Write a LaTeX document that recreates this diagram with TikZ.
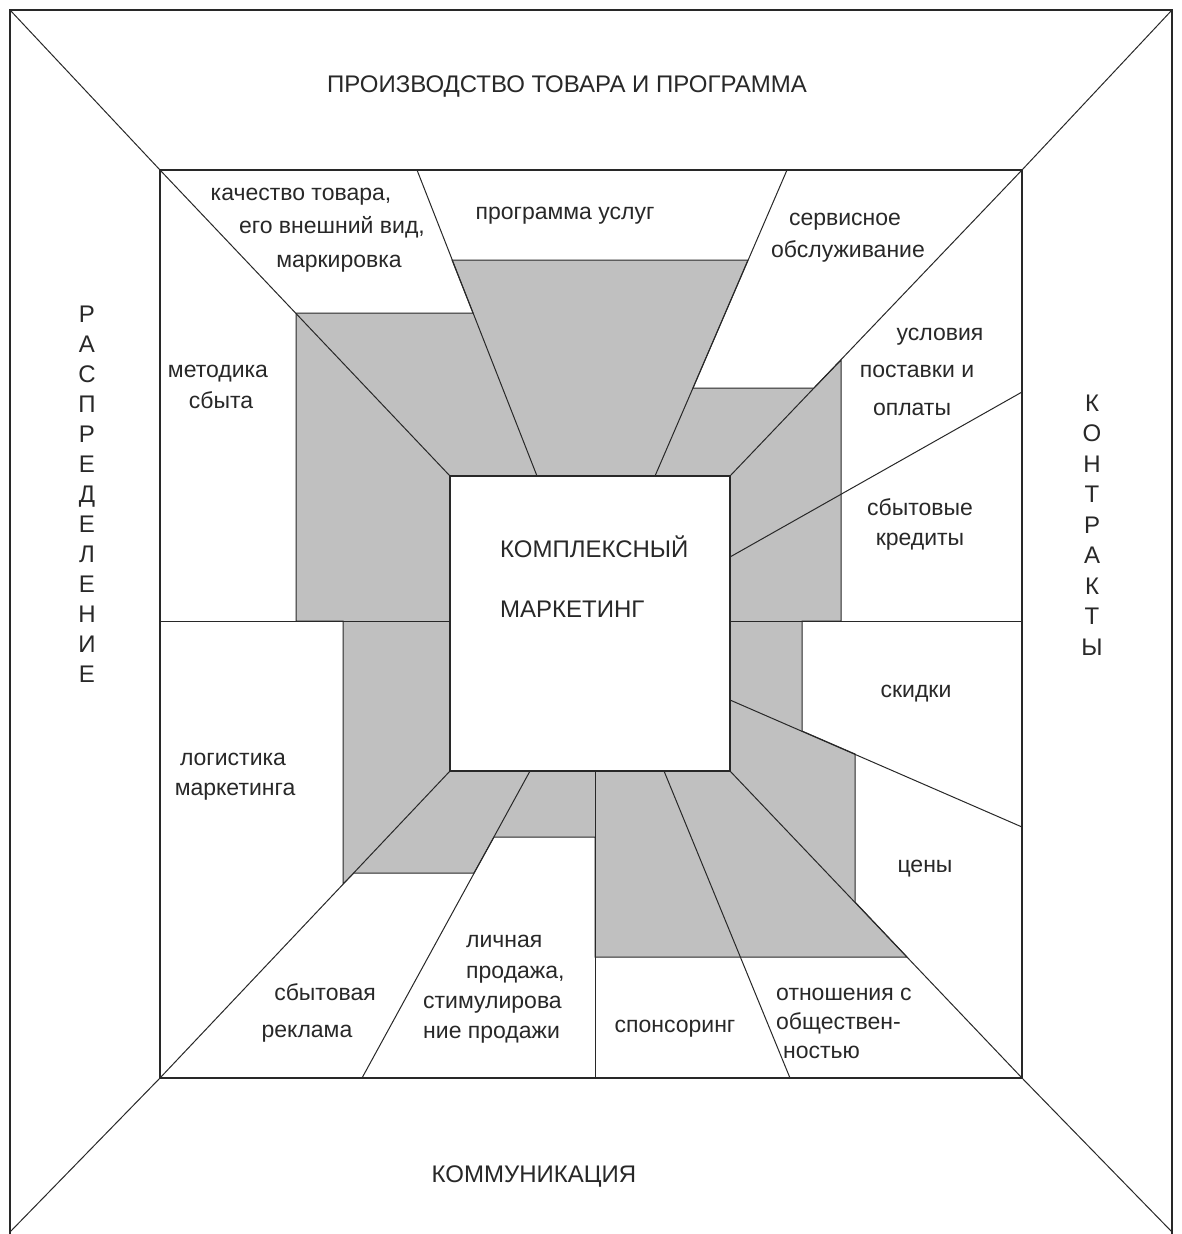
\documentclass[tikz,border=0pt]{standalone}
\usepackage{fontspec}
\setmainfont{Liberation Sans}
\definecolor{panel}{RGB}{192,192,192}
\definecolor{ink}{RGB}{40,40,40}
\begin{document}
\begin{tikzpicture}[x=1pt,y=-1pt,
  frame/.style={line width=1.7pt, draw=ink},
  rule/.style={line width=1pt, draw=ink},
  lbl/.style={inner sep=0pt, font=\fontsize{23}{27}\selectfont, text=ink},
  bigtxt/.style={inner sep=0pt, font=\fontsize{24}{28}\selectfont, text=ink}]
\useasboundingbox (0,0) rectangle (1181,1234);
\fill[white] (0,0) rectangle (1181,1234);

% outer frame corners
\coordinate (o1) at (10,10);
\coordinate (o2) at (1172,10);
\coordinate (o3) at (1172,1234);
\coordinate (o4) at (10,1234);
\coordinate (o3d) at (1172,1232);
\coordinate (o4d) at (10,1232);
% inner square
\coordinate (i1) at (160,170);
\coordinate (i2) at (1022,170);
\coordinate (i3) at (1022,1078);
\coordinate (i4) at (160,1078);
% centre box
\coordinate (c1) at (450,476);
\coordinate (c2) at (730,476);
\coordinate (c3) at (730,771);
\coordinate (c4) at (450,771);

% grey ring around the centre box
\filldraw[fill=panel, rule]
  (296,313) -- (473,313) -- (452,260) -- (748,260) -- (693,388) -- (814,388)
  -- (841,360) -- (841,621) -- (802,621) -- (802,731) -- (855,754) -- (855,902)
  -- (907,957) -- (595,957) -- (595,837) -- (494,837) -- (474,873) -- (354,873)
  -- (343,884) -- (343,621) -- (296,621) -- cycle;

% centre box
\filldraw[fill=white, frame] (c1) rectangle (c3);

% dividing lines of the cells
\draw[rule] (i1) -- (c1);
\draw[rule] (i2) -- (c2);
\draw[rule] (i3) -- (c3);
\draw[rule] (i4) -- (c4);
\draw[rule] (417,170) -- (537,476);
\draw[rule] (787,170) -- (655,476);
\draw[rule] (1022,392) -- (730,557);
\draw[rule] (1022,827) -- (730,700);
\draw[rule] (790,1078) -- (664,771);
\draw[rule] (595,771) -- (595,1078);
\draw[rule] (362,1078) -- (530,771);
\draw[rule] (160,621) -- (450,621);
\draw[rule] (730,621) -- (1022,621);

% frames and corner diagonals
\draw[frame] (o4) -- (o1) -- (o2) -- (o3);
\draw[frame] (i1) rectangle (i3);
\draw[rule] (o1) -- (i1);
\draw[rule] (o2) -- (i2);
\draw[rule] (o3d) -- (i3);
\draw[rule] (o4d) -- (i4);

% outer band titles
\node[bigtxt, anchor=base] (top) at (567,92) {ПРОИЗВОДСТВО ТОВАРА И ПРОГРАММА};
\node[bigtxt, anchor=base] (bottom) at (534,1182) {КОММУНИКАЦИЯ};
\foreach \ch [count=\i from 0] in {Р,А,С,П,Р,Е,Д,Е,Л,Е,Н,И,Е}
  \node[bigtxt, anchor=base] (left\i) at (87,322+30*\i) {\ch};
\foreach \ch [count=\i from 0] in {К,О,Н,Т,Р,А,К,Т,Ы}
  \node[bigtxt, anchor=base] (right\i) at (1092,411+30.5*\i) {\ch};

% centre
\node[bigtxt, anchor=base west] (cm1) at (500,557) {КОМПЛЕКСНЫЙ};
\node[bigtxt, anchor=base west] (cm2) at (500,617) {МАРКЕТИНГ};

% cell captions
\node[lbl, anchor=base] (q1) at (301,200) {качество товара,};
\node[lbl, anchor=base] (q2) at (332,233) {его внешний вид,};
\node[lbl, anchor=base] (q3) at (339,267) {маркировка};
\node[lbl, anchor=base] (ps) at (565,219) {программа услуг};
\node[lbl, anchor=base] (sv1) at (845,225) {сервисное};
\node[lbl, anchor=base] (sv2) at (848,257) {обслуживание};
\node[lbl, anchor=base] (us1) at (940,340) {условия};
\node[lbl, anchor=base] (us2) at (917,377) {поставки и};
\node[lbl, anchor=base] (us3) at (912,415) {оплаты};
\node[lbl, anchor=base] (ms1) at (218,377) {методика};
\node[lbl, anchor=base] (ms2) at (221,408) {сбыта};
\node[lbl, anchor=base] (cr1) at (920,515) {сбытовые};
\node[lbl, anchor=base] (cr2) at (920,545) {кредиты};
\node[lbl, anchor=base] (sk) at (916,697) {скидки};
\node[lbl, anchor=base] (lg1) at (233,765) {логистика};
\node[lbl, anchor=base] (lg2) at (235,795) {маркетинга};
\node[lbl, anchor=base] (pr) at (925,872) {цены};
\node[lbl, anchor=base] (ad1) at (325,1000) {сбытовая};
\node[lbl, anchor=base] (ad2) at (307,1037) {реклама};
\node[lbl, anchor=base west] (pe1) at (466,947) {личная};
\node[lbl, anchor=base west] (pe2) at (466,978) {продажа,};
\node[lbl, anchor=base west] (pe3) at (423,1008) {стимулирова};
\node[lbl, anchor=base west] (pe4) at (423,1038) {ние продажи};
\node[lbl, anchor=base] (sp) at (675,1032) {спонсоринг};
\node[lbl, anchor=base west] (pu1) at (776,1000) {отношения с};
\node[lbl, anchor=base west] (pu2) at (776,1029) {обществен-};
\node[lbl, anchor=base west] (pu3) at (783,1058) {ностью};
\end{tikzpicture}
\end{document}
